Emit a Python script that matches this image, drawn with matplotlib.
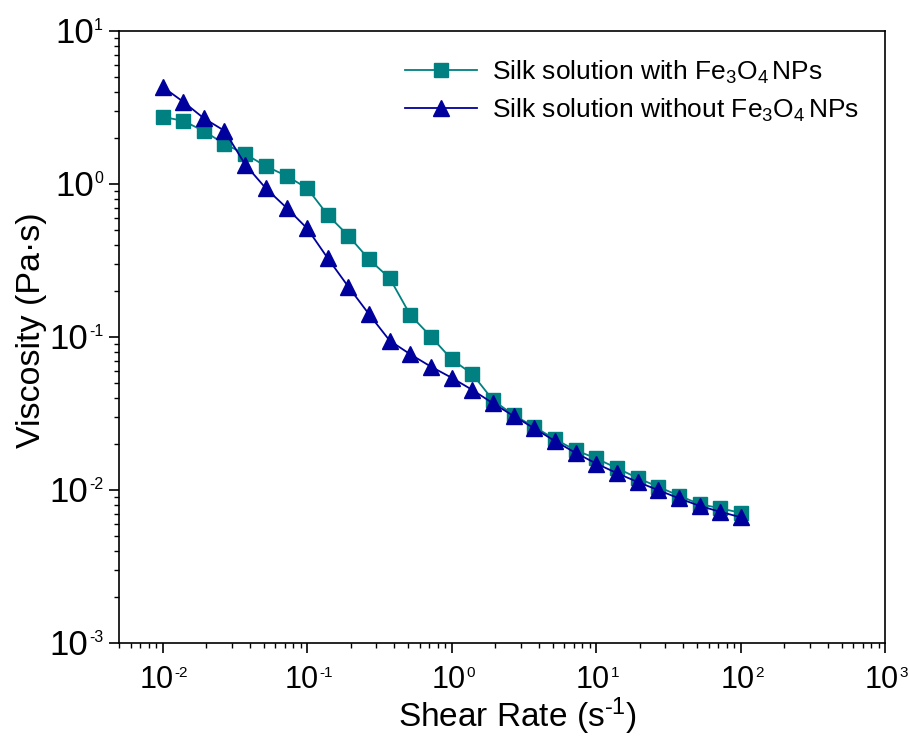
import numpy as np
import matplotlib
matplotlib.use("Agg")
import matplotlib.pyplot as plt
import matplotlib.transforms as mtransforms
from matplotlib.ticker import LogLocator, NullFormatter

plt.rcParams['font.family'] = ['Liberation Sans', 'DejaVu Sans']
plt.rcParams['mathtext.fontset'] = 'custom'
plt.rcParams['mathtext.rm'] = 'Liberation Sans'
plt.rcParams['mathtext.it'] = 'Liberation Sans:italic'
plt.rcParams['mathtext.bf'] = 'Liberation Sans:bold'

# Shear rate: 7 points per decade from 1e-2 to 1e2
shear_rate = [0.01, 0.0139, 0.0193, 0.0268, 0.0373, 0.0518, 0.0720,
              0.1, 0.139, 0.193, 0.268, 0.373, 0.518, 0.720,
              1.0, 1.39, 1.93, 2.68, 3.73, 5.18, 7.20,
              10.0, 13.9, 19.3, 26.8, 37.3, 51.8, 72.0, 100.0]

visc_with = [2.75, 2.59, 2.22, 1.83, 1.57, 1.31, 1.13,
             0.94, 0.627, 0.459, 0.322, 0.242, 0.139, 0.1005,
             0.0715, 0.0573, 0.0387, 0.0309, 0.0259, 0.0215, 0.0182,
             0.0161, 0.0139, 0.0120, 0.0105, 0.0092, 0.0081, 0.0076, 0.0071]

visc_without = [4.32, 3.45, 2.69, 2.23, 1.34, 0.938, 0.700,
                0.513, 0.327, 0.213, 0.141, 0.0946, 0.0771, 0.0640,
                0.0542, 0.0451, 0.0369, 0.0305, 0.0253, 0.0209, 0.0175,
                0.0149, 0.0129, 0.0113, 0.0100, 0.00883, 0.00789, 0.00721, 0.00664]

x_exponents = [-2, -1, 0, 1, 2, 3]
y_exponents = [-3, -2, -1, 0, 1]

label_with = r'Silk solution with Fe$_3$O$_4\,$NPs'
label_without = r'Silk solution without Fe$_3$O$_4\,$NPs'

DPI = 100
fig = plt.figure(figsize=(9.09, 7.40), dpi=DPI)
ax = fig.add_axes([0.131, 0.131, 0.843, 0.827])

teal = '#008080'
navy = '#00009C'

ax.plot(shear_rate, visc_with, color=teal, lw=1.3, marker='s', ms=10,
        markerfacecolor=teal, markeredgecolor=teal, label=label_with, zorder=3)
ax.plot(shear_rate, visc_without, color=navy, lw=1.3, marker='^', ms=11.5,
        markerfacecolor=navy, markeredgecolor=navy, label=label_without, zorder=4)

ax.set_xscale('log')
ax.set_yscale('log')
ax.set_xlim(0.005, 1000)
ax.set_ylim(1e-3, 1e1)

ax.xaxis.set_major_locator(LogLocator(base=10, numticks=20))
ax.yaxis.set_major_locator(LogLocator(base=10, numticks=20))
ax.xaxis.set_minor_locator(LogLocator(base=10, subs=np.arange(2, 10), numticks=20))
ax.yaxis.set_minor_locator(LogLocator(base=10, subs=np.arange(2, 10), numticks=20))
ax.xaxis.set_major_formatter(NullFormatter())
ax.yaxis.set_major_formatter(NullFormatter())
ax.xaxis.set_minor_formatter(NullFormatter())
ax.yaxis.set_minor_formatter(NullFormatter())

ax.tick_params(which='major', direction='out', length=7.2, width=1.2,
               top=False, right=False)
ax.tick_params(which='minor', direction='out', length=3.6, width=1.0,
               top=False, right=False)
for s in ax.spines.values():
    s.set_linewidth(1.2)

# ---- tick labels: "10" with a small raised exponent (real text) ----
renderer = fig.canvas.get_renderer()
px = 1.0 / DPI  # inch per pixel


def offset(dx_px, dy_px):
    return mtransforms.ScaledTranslation(dx_px * px, dy_px * px, fig.dpi_scale_trans)


def width_px(t):
    return t.get_window_extent(renderer).width


bx = mtransforms.blended_transform_factory(ax.transData, ax.transAxes)
for e in x_exponents:
    v = 10.0 ** e
    base = ax.text(v, 0, '10', fontsize=22, ha='right', va='baseline',
                   transform=bx, clip_on=False)
    sup = ax.text(v, 0, str(e), fontsize=11, ha='left', va='baseline',
                  transform=bx, clip_on=False)
    wb, ws = width_px(base), width_px(sup)
    d = (wb - ws) / 2.0 + 1
    base.set_transform(bx + offset(d, -45))
    sup.set_transform(bx + offset(d + 0.5, -34))

by = mtransforms.blended_transform_factory(ax.transAxes, ax.transData)
for e in y_exponents:
    v = 10.0 ** e
    sup = ax.text(0, v, str(e), fontsize=11.5, ha='right', va='baseline',
                  transform=by + offset(-16, 1), clip_on=False)
    ws = width_px(sup)
    base = ax.text(0, v, '10', fontsize=25, ha='right', va='baseline',
                   transform=by + offset(-16.5 - ws, -12), clip_on=False)

ax.set_xlabel('Shear Rate (s$^{\\text{-}1}$)', fontsize=24)
ax.set_ylabel('Viscosity (Pa\u00b7s)', fontsize=24.5)
ax.xaxis.set_label_coords(0.52, -0.086)
ax.yaxis.set_label_coords(-0.094, 0.512)

leg = ax.legend(loc='upper left', bbox_to_anchor=(0.373, 0.955), frameon=False,
                fontsize=19, handlelength=2.75, handletextpad=0.55,
                borderaxespad=0, borderpad=0, labelspacing=0.4)

fig.savefig('out.png', dpi=DPI)
